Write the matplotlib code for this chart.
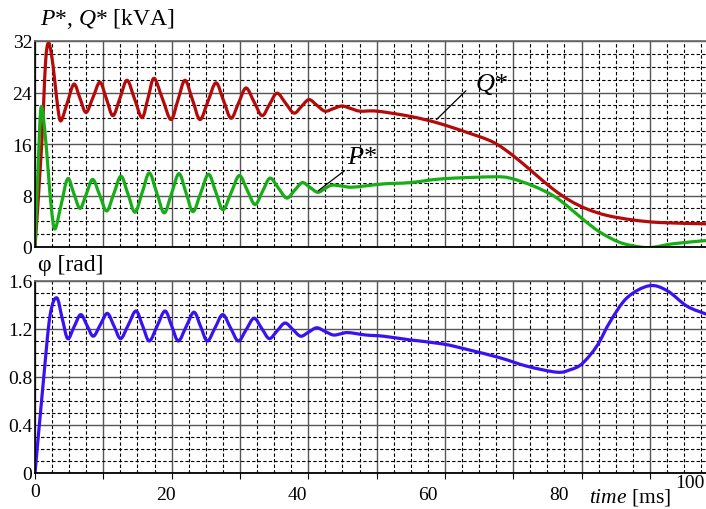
import numpy as np
import matplotlib
matplotlib.use('Agg')
import matplotlib.pyplot as plt
from matplotlib.ticker import MultipleLocator
from matplotlib.path import Path
from matplotlib.patches import PathPatch

plt.rcParams['font.family'] = ['Liberation Serif', 'DejaVu Serif']
plt.rcParams['mathtext.fontset'] = 'custom'
plt.rcParams['mathtext.rm'] = 'Liberation Serif'
plt.rcParams['mathtext.it'] = 'Liberation Serif:italic'

# Q* [kVA] vs time [ms]
t_q = [0, 1.0, 1.6, 2.03, 2.5, 3.0, 3.5, 3.97, 4.96, 5.95, 6.87, 7.79, 8.86, 9.92,
       10.91, 11.9, 12.98, 14.05, 15.2, 16.34, 17.26, 18.17, 19.47, 20.76, 21.83,
       22.9, 24.05, 25.19, 26.41, 27.63, 28.78, 29.92, 31.07, 32.21, 33.44, 34.66,
       35.8, 36.95, 38.25, 39.54, 40.69, 41.83, 43.05, 44.27, 45.57, 46.87, 48.25,
       49.62, 52.21, 57.25, 61.37, 65.95, 69.92, 72.98, 76.03, 79.08, 81.68, 84.27,
       87.33, 91.3, 95.42, 102.44]
q_star = [0, 15.5, 28.5, 31.7, 30.0, 26.0, 21.5, 19.6, 22.5, 25.3, 23.1, 20.9, 23.25,
          25.6, 23.0, 20.4, 23.15, 25.9, 23.0, 20.1, 23.15, 26.2, 23.0, 19.8, 22.85,
          25.9, 22.85, 19.8, 22.65, 25.5, 22.75, 20.0, 22.35, 24.7, 22.55, 20.4,
          22.15, 23.9, 22.35, 20.8, 21.85, 22.9, 22.0, 21.1, 21.5, 21.9, 21.5, 21.1,
          21.1, 20.3, 19.3, 17.8, 16.3, 14.2, 11.6, 9.0, 7.2, 5.9, 4.9, 4.2, 3.8, 3.6]

# P* [kVA] vs time [ms]
t_p = [0, 0.5, 0.92, 1.5, 2.0, 2.5, 3.05, 4.02, 4.99, 5.93, 6.87, 7.84, 8.81, 9.88,
       10.95, 12.04, 13.13, 14.2, 15.27, 16.36, 17.45, 18.59, 19.73, 20.86, 21.98,
       23.05, 24.12, 25.3, 26.49, 27.6, 28.7, 29.95, 31.19, 32.39, 33.59, 34.74,
       35.88, 37.16, 38.43, 39.62, 40.81, 41.99, 43.16, 44.23, 45.3, 46.95, 48.6,
       53.2, 57.25, 62.29, 69.92, 72.52, 76.03, 79.08, 81.22, 83.66, 86.26, 89.31,
       92.37, 94.35, 97.4, 102.44]
p_star = [0, 13.0, 21.7, 18.0, 12.0, 6.0, 2.8, 6.7, 10.6, 8.3, 6.0, 8.25, 10.5, 8.05,
          5.6, 8.3, 11.0, 8.2, 5.4, 8.45, 11.5, 8.4, 5.3, 8.35, 11.4, 8.45, 5.5, 8.4,
          11.3, 8.55, 5.8, 8.45, 11.1, 8.85, 6.6, 8.65, 10.7, 9.15, 7.6, 8.8, 10.0,
          9.25, 8.5, 9.05, 9.6, 9.45, 9.3, 9.8, 10.0, 10.6, 10.9, 10.7, 9.5, 8.0, 6.4,
          4.3, 2.3, 0.7, 0.0, -0.05, 0.5, 1.0]

# phi [rad] vs time [ms]
t_phi = [0, 1.27, 2.29, 3.31, 4.15, 4.99, 5.98, 6.98, 7.94, 8.9, 9.97, 11.04, 12.06,
         13.08, 14.25, 15.42, 16.44, 17.45, 18.65, 19.85, 20.87, 21.88, 23.08, 24.27,
         25.29, 26.31, 27.49, 28.66, 29.85, 31.04, 32.24, 33.44, 34.61, 35.77, 36.97,
         38.17, 39.37, 40.56, 41.79, 43.01, 44.28, 45.54, 46.69, 47.83, 50.5, 53.18,
         57.14, 62.29, 65.95, 70.99, 75.11, 79.69, 81.68, 83.51, 85.8, 87.79, 90.38,
         93.74, 96.49, 99.54, 102.44]
phi = [0, 0.76, 1.31, 1.46, 1.29, 1.12, 1.22, 1.32, 1.23, 1.14, 1.235, 1.33, 1.225,
       1.12, 1.235, 1.35, 1.225, 1.10, 1.225, 1.35, 1.225, 1.10, 1.22, 1.34, 1.22,
       1.10, 1.21, 1.32, 1.21, 1.10, 1.195, 1.29, 1.205, 1.12, 1.185, 1.25, 1.195,
       1.14, 1.175, 1.21, 1.18, 1.15, 1.16, 1.17, 1.15, 1.14, 1.11, 1.075, 1.03, 0.96,
       0.89, 0.84, 0.86, 0.91, 1.06, 1.26, 1.46, 1.56, 1.52, 1.39, 1.325]

x_ticks = [0, 20, 40, 60, 80, 100]
pq_ticks = [0, 8, 16, 24, 32]
phi_ticks = [0, 0.4, 0.8, 1.2, 1.6]

x_max = 102.44
grid_step = 10.43   # solid grid spacing (Mathcad grid, 4 dashed sub-divisions)


def smooth_line(ax, x, y, **kw):
    """Draw a smooth curve through the points (cubic Bezier, Catmull-Rom tangents)."""
    pts = np.column_stack([x, y]).astype(float)
    n = len(pts)
    verts = [pts[0]]
    codes = [Path.MOVETO]
    for i in range(n - 1):
        p0 = pts[max(i - 1, 0)]
        p1 = pts[i]
        p2 = pts[i + 1]
        p3 = pts[min(i + 2, n - 1)]
        verts += [p1 + (p2 - p0) / 6, p2 - (p3 - p1) / 6, p2]
        codes += [Path.CURVE4] * 3
    patch = PathPatch(Path(verts, codes), fill=False, capstyle='round',
                      joinstyle='round', **kw)
    ax.add_patch(patch)


def style_axes(ax, yticks, ylabels):
    ax.set_xlim(0, x_max)
    ax.set_ylim(yticks[0], yticks[-1])
    ax.set_xticks(np.arange(0, x_max, grid_step))
    ax.set_xticks(np.arange(0, x_max, grid_step / 4), minor=True)
    ax.set_yticks(yticks)
    ax.set_yticklabels(ylabels, fontsize=14)
    ax.yaxis.set_minor_locator(MultipleLocator((yticks[1] - yticks[0]) / 4))
    ax.set_xticklabels([])
    ax.tick_params(axis='y', which='both', length=0, pad=2)
    ax.tick_params(axis='x', which='minor', length=0)
    ax.tick_params(axis='x', which='major', length=4, direction='out', color='black')
    ax.grid(which='major', color='#555555', lw=1.0, ls='-')
    ax.grid(which='minor', color='black', lw=0.8, ls=(0, (3, 2)))
    ax.set_axisbelow(True)
    ax.spines['right'].set_visible(False)
    ax.spines['top'].set_color('#666666')
    ax.spines['top'].set_linewidth(1.2)
    ax.spines['left'].set_linewidth(1.2)
    ax.spines['bottom'].set_linewidth(1.3)


fig = plt.figure(figsize=(7.06, 5.10), dpi=100)
ax1 = fig.add_axes([35 / 706, 1 - 248 / 510, 671 / 706, 206 / 510])
ax2 = fig.add_axes([35 / 706, 1 - 474 / 510, 671 / 706, 192 / 510])

style_axes(ax1, pq_ticks, [str(v) for v in pq_ticks])
style_axes(ax2, phi_ticks, ['0', '0.4', '0.8', '1.2', '1.6'])
ax1.tick_params(axis='x', which='major', length=0)

smooth_line(ax1, t_q, q_star, edgecolor='#b40a0a', lw=2.3)
smooth_line(ax1, t_p, p_star, edgecolor='#17ad17', lw=2.3)
smooth_line(ax2, t_phi, phi, edgecolor='#3a12f2', lw=2.3)

# curve labels with leader lines
ax1.annotate(r'$\mathit{Q}$*', xy=(61.3, 19.8), xytext=(67.2, 23.5), fontsize=19,
             ha='left', va='bottom',
             arrowprops=dict(arrowstyle='-', color='black', lw=0.9,
                             shrinkA=0, shrinkB=0, relpos=(-0.28, 0.2)))
ax1.annotate(r'$\mathit{P}$*', xy=(43.25, 8.75), xytext=(47.6, 12.3), fontsize=19,
             ha='left', va='bottom',
             arrowprops=dict(arrowstyle='-', color='black', lw=0.9,
                             shrinkA=0, shrinkB=0, relpos=(0.05, 0.0)))

# x tick labels (Mathcad places them a little off the grid)
for v in x_ticks:
    y = -0.113
    if v == 0:
        y = -0.094
    if v == 100:
        y = -0.047
    ax2.text(v, y, str(v), transform=ax2.get_xaxis_transform(), fontsize=14,
             ha='center', va='center', clip_on=False)

fig.text(40 / 706, 1 - 19 / 510, r'$\mathit{P}$*, $\mathit{Q}$* [kVA]', fontsize=17,
         ha='left', va='center')
fig.text(38 / 706, 1 - 266 / 510, 'φ [rad]', fontsize=17, ha='left', va='center')
fig.text(589 / 706, 1 - 498 / 510, r'$\mathit{time}$ [ms]', fontsize=15.5,
         ha='left', va='center')

plt.savefig('out.png', dpi=100)
plt.close()
